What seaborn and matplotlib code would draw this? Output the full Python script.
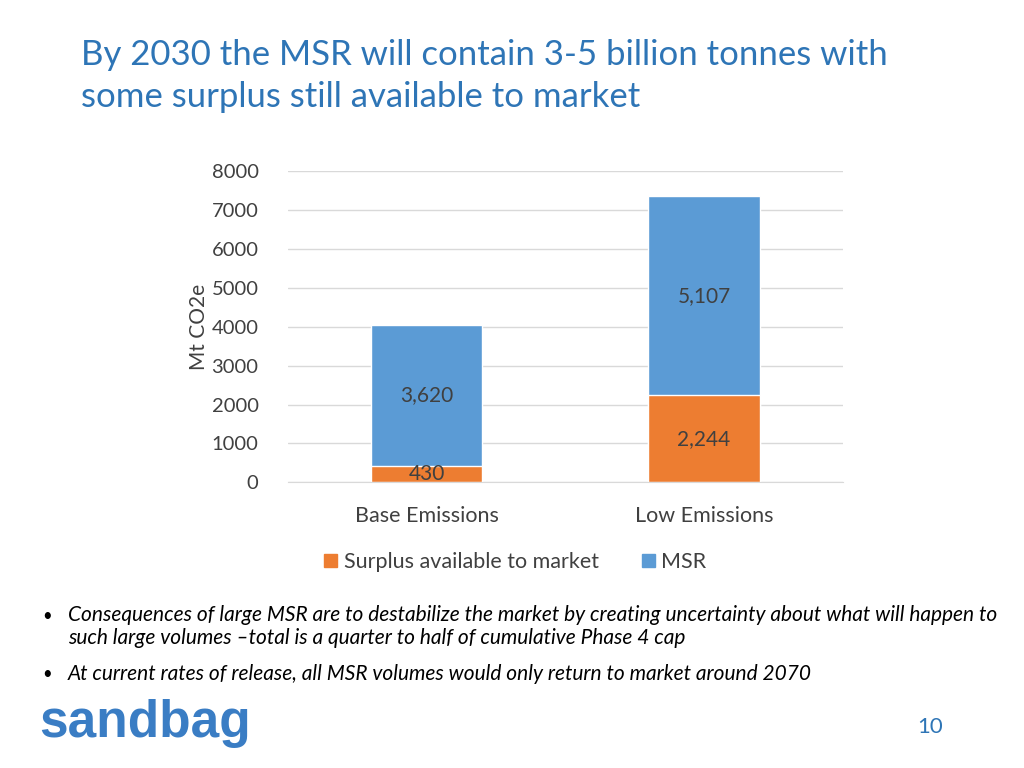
import pandas as pd
import matplotlib.pyplot as plt
import seaborn as sns
from matplotlib.patches import Patch

# chart data
scenarios = ["Base Emissions", "Low Emissions"]
surplus = [430, 2244]
msr = [3620, 5107]
yticks = [0, 1000, 2000, 3000, 4000, 5000, 6000, 7000, 8000]

title = "By 2030 the MSR will contain 3-5 billion tonnes with\nsome surplus still available to market"
bullets = [
    "Consequences of large MSR are to destabilize the market by creating uncertainty about what will happen to\nsuch large volumes \u2013total is a quarter to half of cumulative Phase 4 cap",
    "At current rates of release, all MSR volumes would only return to market around 2070",
]

orange = "#ED7D31"
blue = "#5B9BD5"
txt = "#404040"
title_blue = "#2E75B6"

sns.set_style("white")
plt.rcParams["font.family"] = ["Lato", "DejaVu Sans"]

df = pd.DataFrame({"scenario": scenarios, "surplus": surplus, "msr": msr})
df["total"] = df["surplus"] + df["msr"]

fig = plt.figure(figsize=(10.24, 7.68), dpi=100)
ax = fig.add_axes([0.281, 0.372, 0.542, 0.405])

# stacked bars: total in blue, surplus in orange on top of it
sns.barplot(data=df, x="scenario", y="total", color=blue, width=0.4, saturation=1, ax=ax)
sns.barplot(data=df, x="scenario", y="surplus", color=orange, width=0.4, saturation=1, ax=ax)

for i, row in df.iterrows():
    ax.text(i, row["surplus"] / 2, f"{row['surplus']:,}", ha="center", va="center",
            fontsize=15, color=txt)
    ax.text(i, row["surplus"] + row["msr"] / 2, f"{row['msr']:,}", ha="center", va="center",
            fontsize=15, color=txt)

ax.set_xlim(-0.5, 1.5)
ax.set_ylim(0, 8000)
ax.set_yticks(yticks)
ax.set_yticklabels([str(v) for v in yticks], fontsize=14.5, color=txt)
ax.tick_params(axis="x", labelsize=15.5, labelcolor=txt, length=0, pad=17)
ax.tick_params(axis="y", length=0, pad=21)
ax.set_xlabel("")
ax.set_ylabel("Mt CO2e", fontsize=15, color=txt)
ax.yaxis.set_label_coords(-0.142, 0.5)
ax.grid(axis="y", color="#D9D9D9", linewidth=1)
ax.set_axisbelow(True)
sns.despine(ax=ax, left=True, top=True, right=True, bottom=False)
ax.spines["bottom"].set_color("#D9D9D9")

handles = [Patch(color=orange, label="Surplus available to market"),
           Patch(color=blue, label="MSR")]
ax.legend(handles=handles, loc="center", bbox_to_anchor=(0.41, -0.256), ncol=2,
          frameon=False, fontsize=15.5, labelcolor=txt, handlelength=0.6, handleheight=0.6,
          handletextpad=0.3, columnspacing=2.0)

fig.text(0.079, 0.901, title, fontsize=25, color=title_blue, va="center", ha="left",
         linespacing=1.4)

fig.text(0.041, 0.198, "\u2022", fontsize=12, color="black", va="center")
fig.text(0.066, 0.184, bullets[0], fontsize=15, style="italic", color="black",
         va="center", linespacing=1.2)
fig.text(0.041, 0.122, "\u2022", fontsize=12, color="black", va="center")
fig.text(0.066, 0.122, bullets[1], fontsize=15, style="italic", color="black", va="center")

fig.text(0.038, 0.040, "sandbag", fontsize=37, fontweight="bold", color="#3A7DC4",
         family="Liberation Sans", va="baseline")
fig.text(0.908, 0.046, "10", fontsize=16, color=title_blue, va="baseline", ha="center")

fig.savefig("out.png", dpi=100)
